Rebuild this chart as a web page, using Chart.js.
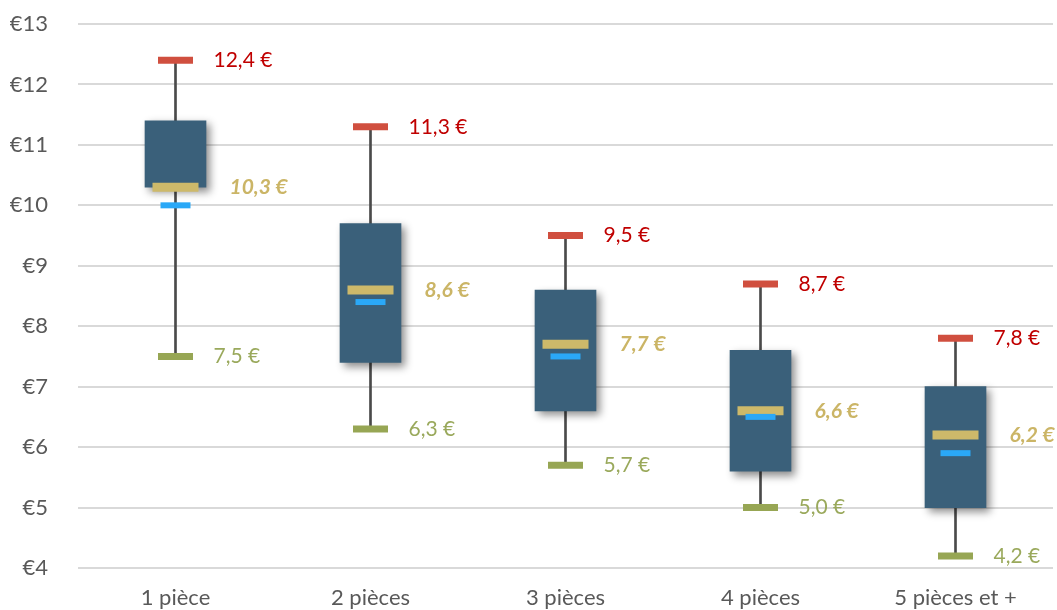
<!DOCTYPE html>
<html lang="fr">
<head>
<meta charset="utf-8">
<title>Prix par nombre de pièces</title>
<script src="https://cdn.jsdelivr.net/npm/chart.js@4.4.1/dist/chart.umd.min.js"></script>
<style>
  html, body { margin: 0; padding: 0; background: #ffffff; }
  #wrap { width: 1057px; height: 610px; position: relative; }
</style>
</head>
<body>
<div id="wrap"><canvas id="chart"></canvas></div>
<script>
// Categories and box-plot statistics (€)
const categories = ['1 pièce', '2 pièces', '3 pièces', '4 pièces', '5 pièces et +'];
const minValues    = [7.5, 6.3, 5.7, 5.0, 4.2];
const q1Values     = [10.3, 7.4, 6.6, 5.6, 5.0];
const medianValues = [10.3, 8.6, 7.7, 6.6, 6.2];
const meanValues   = [10.0, 8.4, 7.5, 6.5, 5.9];
const q3Values     = [11.4, 9.7, 8.6, 7.6, 7.0];
const maxValues    = [12.4, 11.3, 9.5, 8.7, 7.8];
const yTicks       = [4, 5, 6, 7, 8, 9, 10, 11, 12, 13];

const FONT = 'Lato, "Open Sans", "DejaVu Sans", sans-serif';
const fmt = v => v.toFixed(1).replace('.', ',') + ' €';

// Drop shadow under the boxes
const boxShadow = {
  id: 'boxShadow',
  beforeDatasetDraw(chart, args) {
    if (chart.data.datasets[args.index].id !== 'box') return;
    const ctx = chart.ctx;
    ctx.save();
    ctx.shadowColor = 'rgba(0,0,0,0.45)';
    ctx.shadowBlur = 8;
    ctx.shadowOffsetX = 4;
    ctx.shadowOffsetY = 4;
  },
  afterDatasetDraw(chart, args) {
    if (chart.data.datasets[args.index].id !== 'box') return;
    chart.ctx.restore();
  }
};

// Value labels beside max, median and min markers
const valueLabels = {
  id: 'valueLabels',
  afterDatasetsDraw(chart) {
    const ctx = chart.ctx;
    const xs = chart.scales.x, ys = chart.scales.y;
    ctx.save();
    ctx.textBaseline = 'middle';
    ctx.textAlign = 'left';
    categories.forEach((c, i) => {
      const x = xs.getPixelForValue(i);
      ctx.font = '21px ' + FONT;
      ctx.fillStyle = '#c00000';
      ctx.fillText(fmt(maxValues[i]), x + 38, ys.getPixelForValue(maxValues[i]));
      ctx.fillStyle = '#9aa95c';
      ctx.fillText(fmt(minValues[i]), x + 38, ys.getPixelForValue(minValues[i]));
      ctx.font = 'italic bold 21px ' + FONT;
      ctx.fillStyle = '#cbb566';
      ctx.fillText(fmt(medianValues[i]), x + 54, ys.getPixelForValue(medianValues[i]));
    });
    ctx.restore();
  }
};

const marker = (label, values, color, radius, width, order) => ({
  type: 'line',
  label,
  data: values,
  showLine: false,
  pointStyle: 'line',
  pointRadius: radius,
  pointHoverRadius: radius,
  pointBorderWidth: width,
  pointHoverBorderWidth: width,
  pointBorderColor: color,
  pointBackgroundColor: color,
  order
});

// Fixed axis sizes; tick labels may overflow the plot area without shrinking it
const noOverflowPadding = s => {
  s.paddingTop = 0; s.paddingBottom = 0; s.paddingLeft = 0; s.paddingRight = 0;
};

new Chart(document.getElementById('chart'), {
  type: 'bar',
  data: {
    labels: categories,
    datasets: [
      {
        id: 'whisker',
        label: 'Min–Max',
        data: categories.map((c, i) => [minValues[i], maxValues[i]]),
        backgroundColor: '#4a4a4a',
        barThickness: 2,
        grouped: false,
        order: 10
      },
      {
        id: 'box',
        label: 'Q1–Q3',
        data: categories.map((c, i) => [q1Values[i], q3Values[i]]),
        backgroundColor: '#3a607a',
        barThickness: 61,
        grouped: false,
        order: 5
      },
      marker('Max', maxValues, '#d04f3f', 17.5, 7, 3),
      marker('Min', minValues, '#97a654', 17.5, 7, 3),
      marker('Médiane', medianValues, '#cdb96a', 23, 9, 2),
      marker('Moyenne', meanValues, '#2aa8f7', 15, 6, 1)
    ]
  },
  options: {
    responsive: true,
    maintainAspectRatio: false,
    animation: false,
    events: [],
    layout: { autoPadding: false, padding: { top: 24, right: 4, left: 0, bottom: 0 } },
    plugins: {
      legend: { display: false },
      tooltip: { enabled: false }
    },
    scales: {
      x: {
        grid: { display: false, drawTicks: false },
        border: { display: false },
        ticks: {
          color: '#595959',
          font: { family: FONT, size: 22 },
          padding: 17,
          maxRotation: 0
        },
        afterFit(s) { s.height = 42; noOverflowPadding(s); }
      },
      y: {
        min: yTicks[0],
        max: yTicks[yTicks.length - 1],
        afterBuildTicks(s) { s.ticks = yTicks.map(v => ({ value: v })); },
        grid: { color: '#d9d9d9', lineWidth: 2, drawTicks: false },
        border: { display: false },
        ticks: {
          color: '#595959',
          font: { family: FONT, size: 22 },
          padding: 30,
          callback: v => '€' + v
        },
        afterFit(s) { s.width = 78; noOverflowPadding(s); }
      }
    }
  },
  plugins: [boxShadow, valueLabels]
});
</script>
</body>
</html>
